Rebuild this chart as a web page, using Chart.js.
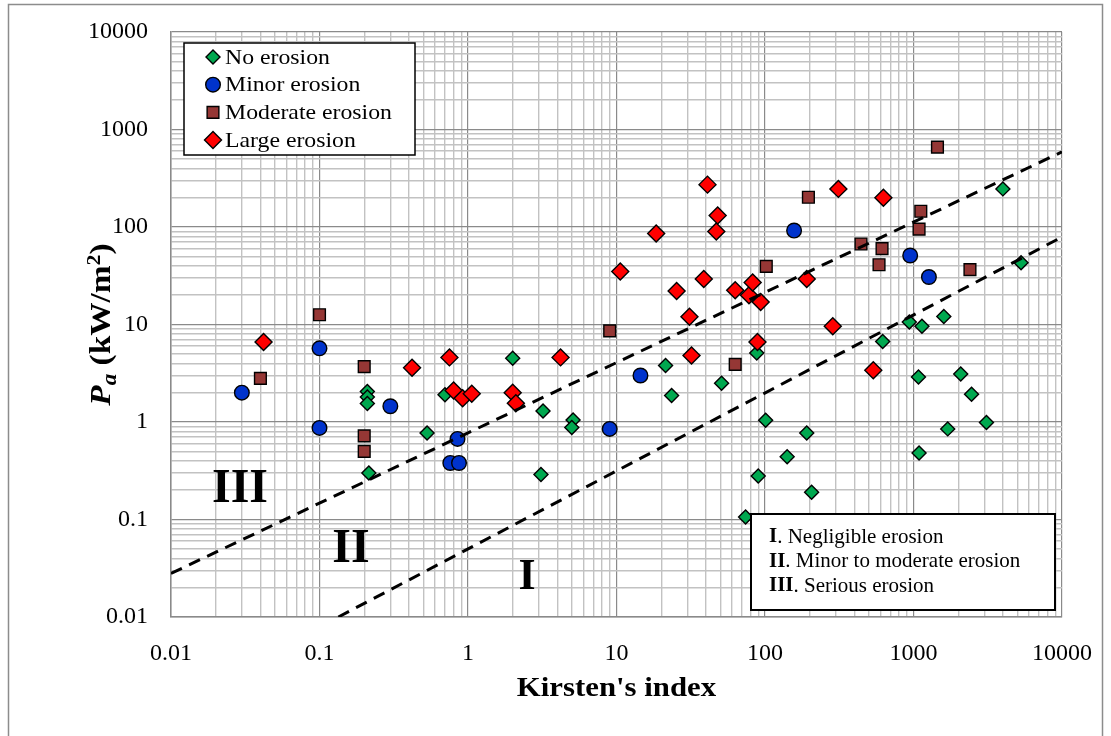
<!DOCTYPE html>
<html>
<head>
<meta charset="utf-8">
<script src="https://cdn.jsdelivr.net/npm/chart.js@4/dist/chart.umd.min.js"></script>
<style>
  html, body { margin: 0; padding: 0; background: #fff; }
  canvas { display: block; }
</style>
</head>
<body>
<canvas id="chart" width="1111" height="736"></canvas>
<script>
// values (Kirsten's index vs Pa)
const noErosionX = [0.21, 0.21, 0.21, 0.215, 0.53, 0.7, 2.0, 3.2, 3.1, 5.1, 5.0, 21.4, 23.5, 51, 88, 101, 90, 74, 141, 191, 206, 620, 937, 1140, 1600, 1080, 1090, 1700, 2080, 2460, 3100, 4000, 5300];
const noErosionY = [2.05, 1.8, 1.55, 0.3, 0.77, 1.9, 4.5, 1.3, 0.29, 1.05, 0.88, 3.8, 1.87, 2.5, 5.1, 1.04, 0.28, 0.106, 0.44, 0.77, 0.19, 6.7, 10.6, 9.6, 12.1, 2.9, 0.48, 0.85, 3.1, 1.93, 0.99, 246, 43];

const minorX = [0.03, 0.1, 0.1, 0.3, 0.76, 0.87, 0.85, 9, 14.5, 157, 950, 1270];
const minorY = [2.0, 5.7, 0.87, 1.45, 0.38, 0.38, 0.67, 0.85, 3.0, 92, 51, 30.7];

const moderateX = [0.04, 0.1, 0.2, 0.2, 0.2, 9, 63, 102, 196, 443, 586, 614, 1090, 1120, 1450, 2400];
const moderateY = [2.8, 12.6, 3.7, 0.72, 0.5, 8.6, 3.9, 39.5, 202, 67, 41, 60, 95, 145, 660, 36.5];

const largeX = [0.042, 0.42, 0.75, 0.8, 0.92, 1.06, 2.0, 2.1, 4.2, 10.6, 18.5, 25.4, 31, 32, 38.7, 41, 47, 48, 63, 78, 82.6, 89, 93.5, 191, 286, 312, 536, 627];
const largeY = [6.6, 3.6, 4.6, 2.1, 1.75, 1.95, 2.0, 1.56, 4.6, 35, 86, 22, 12, 4.8, 29.3, 272, 90, 131, 22.4, 20, 27, 6.6, 17, 29.3, 9.6, 246, 3.4, 199];

// dashed zone boundaries (end points)
const upperBoundX = [0.01, 10000];
const upperBoundY = [0.028, 590];
const lowerBoundX = [0.134, 10000];
const lowerBoundY = [0.01, 79];

const seriesNames = ['No erosion', 'Minor erosion', 'Moderate erosion', 'Large erosion'];
const decadeLabels = ['0.01', '0.1', '1', '10', '100', '1000', '10000'];
const zoneLabels = ['III', 'II', 'I'];
const zoneNotes = [['I', '. Negligible erosion'], ['II', '. Minor to moderate erosion'], ['III', '. Serious erosion']];
const xTitle = "Kirsten's index";

const SERIF = "'Liberation Serif', 'Times New Roman', serif";

const toPts = (xs, ys) => xs.map((x, i) => ({ x: x, y: ys[i] }));

const isDecade = v => Math.abs(Math.log10(v) - Math.round(Math.log10(v))) < 1e-9;

function logGrid() {
  const t = [];
  for (let e = -2; e <= 3; e++) {
    for (let m = 1; m <= 9; m++) {
      t.push({ value: parseFloat((m * Math.pow(10, e)).toPrecision(3)) });
    }
  }
  t.push({ value: 10000 });
  return t;
}

function decadeLabel(v) {
  if (!isDecade(v)) return '';
  return decadeLabels[Math.round(Math.log10(v)) + 2];
}

const gridOpts = {
  color: c => (c.tick && isDecade(c.tick.value)) ? '#8a8a8a' : '#c2c2c2',
  lineWidth: c => (c.tick && isDecade(c.tick.value)) ? 1.2 : 1.4,
  drawTicks: false
};

const marker = {
  borderColor: '#000',
  borderWidth: 1.4
};

// text stretched along its run, like the source figure
function wideText(ctx, text, x, y, sx) {
  ctx.save();
  ctx.translate(x, y);
  ctx.scale(sx, 1);
  ctx.fillText(text, 0, 0);
  ctx.restore();
}

const decor = {
  id: 'decor',
  afterDatasetsDraw(chart) {
    const ctx = chart.ctx;
    ctx.save();

    // zone labels
    ctx.fillStyle = '#000';
    ctx.textAlign = 'center';
    ctx.textBaseline = 'middle';
    ctx.font = 'bold 48px ' + SERIF;
    ctx.fillText(zoneLabels[0], 240, 490);
    ctx.fillText(zoneLabels[1], 351, 550);
    ctx.font = 'bold 44px ' + SERIF;
    ctx.fillText(zoneLabels[2], 527, 578);

    // series legend
    ctx.fillStyle = '#fff';
    ctx.fillRect(184, 43, 231, 112);
    ctx.strokeStyle = '#000';
    ctx.lineWidth = 1.5;
    ctx.strokeRect(184, 43, 231, 112);
    ctx.textAlign = 'left';
    ctx.font = '22px ' + SERIF;
    for (let i = 0; i < 4; i++) {
      const ds = chart.data.datasets[i];
      const y = 57 + i * 27.7;
      ctx.fillStyle = ds.backgroundColor;
      ctx.strokeStyle = '#000';
      ctx.lineWidth = 1.4;
      Chart.helpers.drawPoint(ctx, {
        pointStyle: ds.pointStyle,
        radius: ds.pointRadius,
        rotation: 0,
        borderWidth: 1.4
      }, 213, y);
      ctx.fillStyle = '#000';
      wideText(ctx, seriesNames[i], 225, y + 1, 1.08);
    }

    // zone legend
    ctx.fillStyle = '#fff';
    ctx.fillRect(751, 514, 304, 96);
    ctx.strokeStyle = '#000';
    ctx.lineWidth = 2;
    ctx.strokeRect(751, 514, 304, 96);
    ctx.fillStyle = '#000';
    zoneNotes.forEach((n, i) => {
      const y = 537 + i * 24.5;
      ctx.font = 'bold 21px ' + SERIF;
      ctx.fillText(n[0], 769, y);
      const w = ctx.measureText(n[0]).width;
      ctx.font = '21px ' + SERIF;
      ctx.fillText(n[1], 769 + w, y);
    });
    ctx.restore();
  },
  afterDraw(chart) {
    const ctx = chart.ctx;
    const area = chart.chartArea;
    ctx.save();
    ctx.fillStyle = '#000';

    // x title
    ctx.font = 'bold 28px ' + SERIF;
    ctx.textAlign = 'left';
    ctx.textBaseline = 'middle';
    const xw = ctx.measureText(xTitle).width * 1.1;
    wideText(ctx, xTitle, (area.left + area.right) / 2 - xw / 2, 689, 1.1);

    // y title: Pa (kW/m2)
    const sx = 1.15;
    const parts = [
      { t: 'P', f: 'italic bold 29px ', dy: 0 },
      { t: 'a', f: 'italic bold 20px ', dy: 6 },
      { t: ' (kW/m', f: 'bold 29px ', dy: 0 },
      { t: '2', f: 'bold 19px ', dy: -10 },
      { t: ')', f: 'bold 29px ', dy: 0 }
    ];
    let total = 0;
    parts.forEach(p => { ctx.font = p.f + SERIF; p.w = ctx.measureText(p.t).width * sx; total += p.w; });
    ctx.translate(100, (area.top + area.bottom) / 2);
    ctx.rotate(-Math.PI / 2);
    ctx.textBaseline = 'alphabetic';
    let x = -total / 2;
    parts.forEach(p => {
      ctx.font = p.f + SERIF;
      wideText(ctx, p.t, x, 10 + p.dy, sx);
      x += p.w;
    });
    ctx.restore();

    // outer frame
    ctx.save();
    ctx.strokeStyle = '#8c8c8c';
    ctx.lineWidth = 1.5;
    ctx.strokeRect(8.5, 4.5, 1094, 740);
    ctx.restore();
  }
};

new Chart(document.getElementById('chart'), {
  type: 'scatter',
  data: {
    datasets: [
      Object.assign({ label: seriesNames[0], data: toPts(noErosionX, noErosionY), pointStyle: 'rectRot', pointRadius: 7, backgroundColor: '#00A84F', order: 4 }, marker),
      Object.assign({ label: seriesNames[1], data: toPts(minorX, minorY), pointStyle: 'circle', pointRadius: 7.3, backgroundColor: '#0033CC', order: 3 }, marker),
      Object.assign({ label: seriesNames[2], data: toPts(moderateX, moderateY), pointStyle: 'rect', pointRadius: 8.3, backgroundColor: '#953735', order: 2 }, marker),
      Object.assign({ label: seriesNames[3], data: toPts(largeX, largeY), pointStyle: 'rectRot', pointRadius: 8.5, backgroundColor: '#FF0000', order: 1 }, marker),
      { label: 'upper', data: toPts(upperBoundX, upperBoundY), showLine: true, borderColor: '#000', borderWidth: 3, borderDash: [12, 8], pointRadius: 0, order: 0 },
      { label: 'lower', data: toPts(lowerBoundX, lowerBoundY), showLine: true, borderColor: '#000', borderWidth: 3, borderDash: [12, 8], pointRadius: 0, order: 0 }
    ]
  },
  options: {
    responsive: false,
    animation: false,
    events: [],
    devicePixelRatio: 1,
    layout: { padding: { top: 32, right: 49, left: 0, bottom: 0 } },
    plugins: { legend: { display: false }, tooltip: { enabled: false } },
    scales: {
      x: {
        type: 'logarithmic',
        min: 0.01,
        max: 10000,
        afterBuildTicks: s => { s.ticks = logGrid(); },
        afterFit: s => { s.height = 119; s.paddingLeft = 0; s.paddingRight = 0; },
        ticks: { autoSkip: false, maxRotation: 0, minRotation: 0, padding: 22, color: '#000', font: { family: SERIF, size: 24 }, callback: v => decadeLabel(v) },
        grid: gridOpts,
        border: { color: '#8a8a8a', width: 1.5 }
      },
      y: {
        type: 'logarithmic',
        min: 0.01,
        max: 10000,
        afterBuildTicks: s => { s.ticks = logGrid(); },
        afterFit: s => { s.width = 171; s.paddingTop = 0; s.paddingBottom = 0; },
        ticks: { autoSkip: false, padding: 23, color: '#000', font: { family: SERIF, size: 24 }, callback: v => decadeLabel(v) },
        grid: gridOpts,
        border: { color: '#8a8a8a', width: 1.5 }
      }
    }
  },
  plugins: [decor]
});
</script>
</body>
</html>
